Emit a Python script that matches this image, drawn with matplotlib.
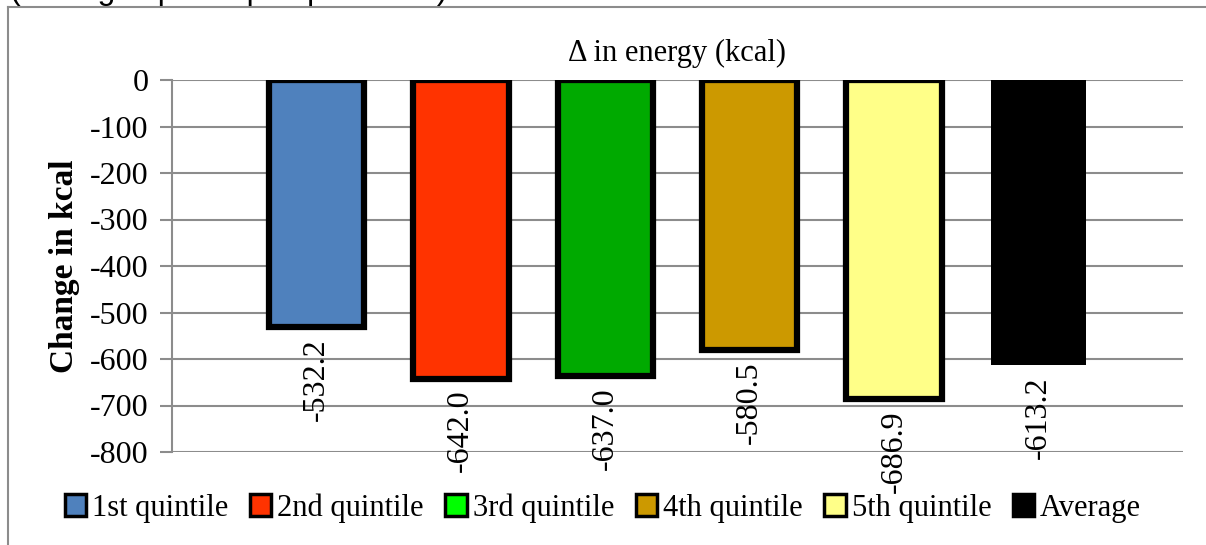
import matplotlib.pyplot as plt
from matplotlib.patches import Patch
import numpy as np

# Data
groups = ['1st quintile', '2nd quintile', '3rd quintile', '4th quintile', '5th quintile', 'Average']
change_kcal = [-532.2, -642.0, -637.0, -580.5, -686.9, -613.2]
bar_colors = ['#4F81BD', '#FF3300', '#00AA00', '#CC9900', '#FFFF88', '#000000']
legend_colors = ['#4F81BD', '#FF3300', '#00FF00', '#CC9900', '#FFFF88', '#000000']
yticks = [0, -100, -200, -300, -400, -500, -600, -700, -800]

plt.rcParams['font.family'] = ['Liberation Serif', 'DejaVu Serif']

fig = plt.figure(figsize=(12.06, 5.45), dpi=100)
ax = fig.add_axes([172 / 1206, 1 - 452 / 545, (1183 - 172) / 1206, (452 - 80) / 545])

x = np.arange(len(groups))
for i in range(len(groups)):
    edge = 'none' if groups[i] == 'Average' else 'black'
    ax.bar(x[i], change_kcal[i], width=0.66, color=bar_colors[i], edgecolor=edge,
           linewidth=4.5, zorder=3)
    # value label just under the bar end
    ax.annotate(f"{change_kcal[i]:.1f}", (x[i], change_kcal[i]), xytext=(0, -8),
                textcoords='offset points', rotation=90, ha='center', va='top',
                fontsize=23, zorder=4)

ax.set_xlim(-1, 6)
ax.set_ylim(-800, 0)
ax.set_yticks(yticks)
ax.set_yticklabels([str(t) for t in yticks], fontsize=23)
ax.set_xticks([])
ax.grid(True, axis='y', color='#8C8C8C', linewidth=1.5, zorder=0)
ax.tick_params(axis='y', length=9, width=1.5, color='#8C8C8C', pad=8)
for side in ['top', 'right', 'bottom']:
    ax.spines[side].set_visible(False)
ax.spines['left'].set_color('#8C8C8C')
ax.spines['left'].set_linewidth(1.5)
ax.set_ylabel('Change in kcal', fontsize=24, fontweight='bold', labelpad=7)
ax.set_title('\u0394 in energy (kcal)', fontsize=22, pad=14)

handles = []
for i in range(len(groups)):
    edge = legend_colors[i] if groups[i] == 'Average' else 'black'
    handles.append(Patch(facecolor=legend_colors[i], edgecolor=edge, linewidth=2.5))
fig.legend(handles, groups, loc='center', bbox_to_anchor=(0.5, 1 - 508 / 545), ncol=6,
           frameon=False, fontsize=22, handlelength=0.7, handleheight=0.7,
           handletextpad=0.2, columnspacing=0.7, borderaxespad=0)

# chart frame (top and left edges visible)
fig.add_artist(plt.Line2D([8 / 1206, 1], [1 - 7 / 545, 1 - 7 / 545], color='#8C8C8C',
                          linewidth=1.5, transform=fig.transFigure))
fig.add_artist(plt.Line2D([8 / 1206, 8 / 1206], [0, 1 - 7 / 545], color='#8C8C8C',
                          linewidth=1.5, transform=fig.transFigure))

# clipped subtitle from the page above
fig.text(10 / 1206, 1 + 1 / 545, '(Changes per capita per week)', family='Liberation Sans',
         fontsize=23, ha='left', va='baseline')

fig.savefig('out.png', dpi=100)
plt.close(fig)
